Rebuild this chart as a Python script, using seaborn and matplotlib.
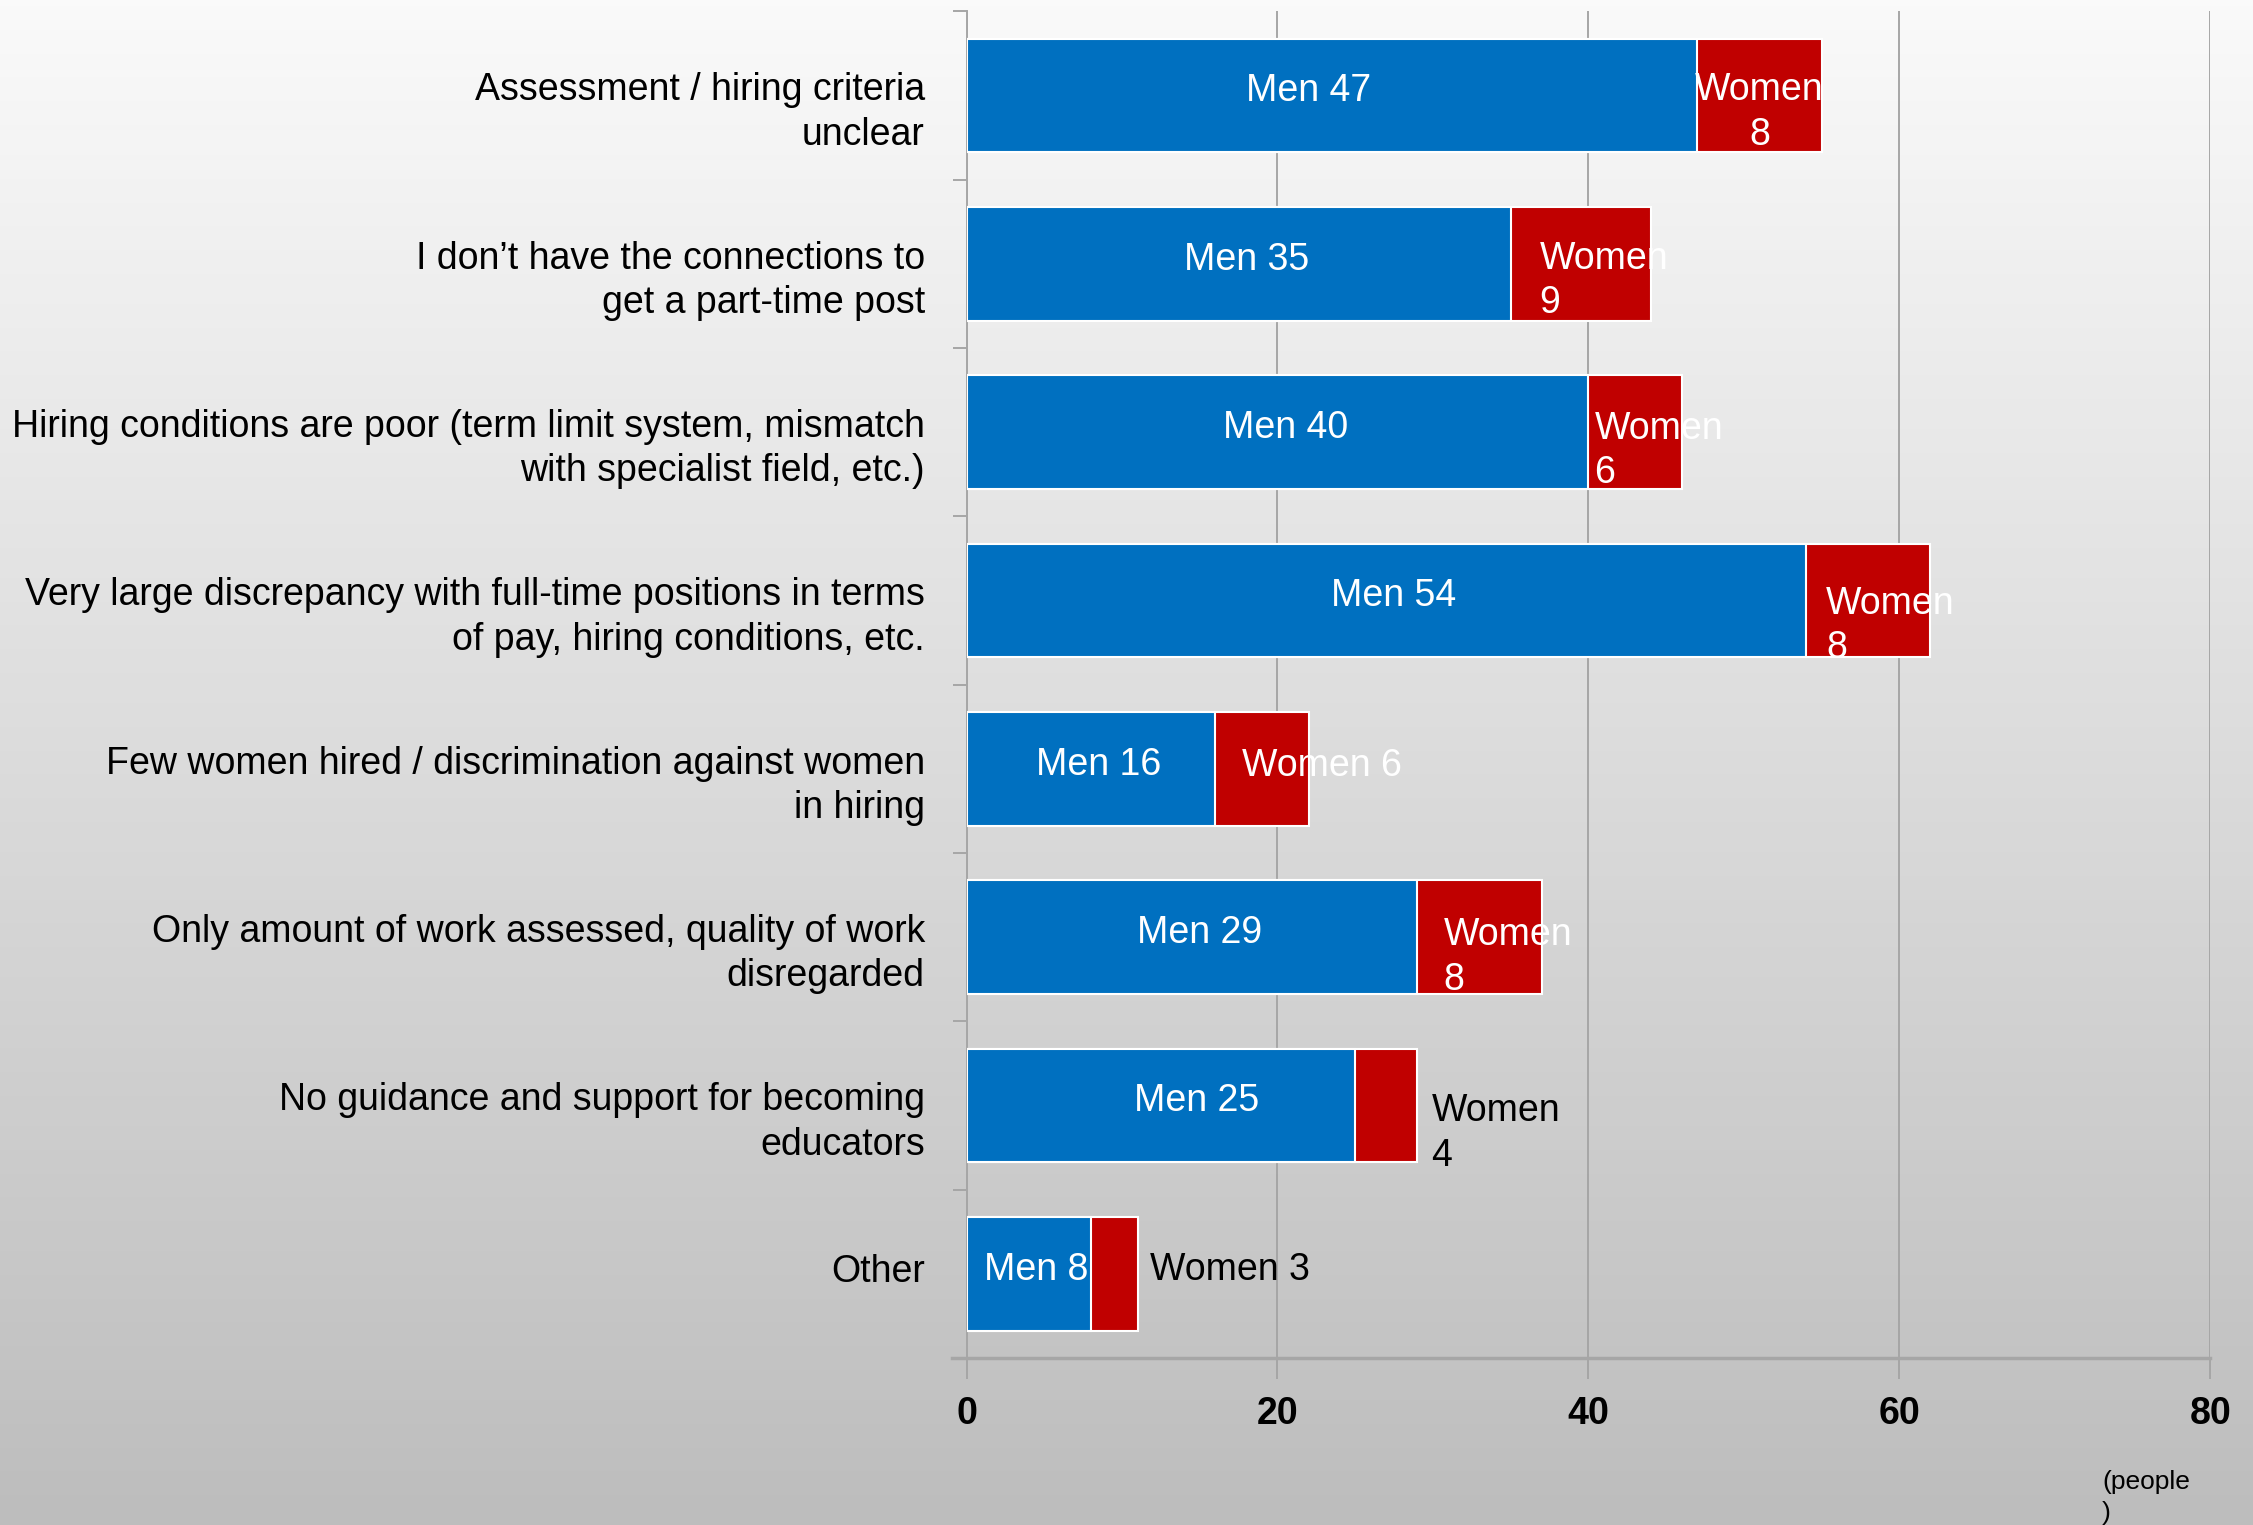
import numpy as np
import pandas as pd
import matplotlib
matplotlib.use("Agg")
import matplotlib.pyplot as plt
import matplotlib.transforms as mtransforms
from matplotlib.ticker import FixedLocator
import seaborn as sns

# data
categories = [
    "Assessment / hiring criteria\nunclear",
    "I don\u2019t have the connections to\nget a part-time post",
    "Hiring conditions are poor (term limit system, mismatch\nwith specialist field, etc.)",
    "Very large discrepancy with full-time positions in terms\nof pay, hiring conditions, etc.",
    "Few women hired / discrimination against women\nin hiring",
    "Only amount of work assessed, quality of work\ndisregarded",
    "No guidance and support for becoming\neducators",
    "Other",
]
men = [47, 35, 40, 54, 16, 29, 25, 8]
women = [8, 9, 6, 8, 6, 8, 4, 3]
x_ticks = [0, 20, 40, 60, 80]
unit_label = "(people\n)"

# how the women labels are placed (style only)
women_mode = ["center", "in", "in", "in", "in", "in", "out", "out"]
women_dx = [0, 1.85, 0.4, 1.3, 1.7, 1.7, 0.9, 0.8]
women_dy = [0.1, 0.1, 0.11, 0.15, -0.02, 0.12, 0.165, -0.02]
women_break = [True, True, True, True, False, True, True, False]
men_dx = [-1.5, 0.5, 0.5, 0.5, 0.5, 0.5, 2.3, 0.5]

BLUE = "#0070C0"
RED = "#C00000"
GRID = "#a6a6a6"

df = pd.DataFrame({"category": categories, "men": men, "women": women})
df["total"] = df["men"] + df["women"]

sns.set_theme(style="white")
plt.rcParams["font.family"] = ["Liberation Sans", "DejaVu Sans"]
plt.rcParams["text.color"] = "black"
plt.rcParams["xtick.labelcolor"] = "black"
plt.rcParams["ytick.labelcolor"] = "black"

fig = plt.figure(figsize=(22.53, 15.25), dpi=100)

# vertical grey gradient behind everything
bg = fig.add_axes([0, 0, 1, 1], zorder=-10)
grad = np.linspace(0, 1, 256).reshape(-1, 1)
bg.imshow(grad, aspect="auto", cmap=matplotlib.colors.LinearSegmentedColormap.from_list(
    "bg", ["#fafafa", "#bdbdbd"]), extent=[0, 1, 0, 1], origin="upper")
bg.axis("off")

ax = fig.add_axes([0.429, 0.1095, 0.552, 0.883])
ax.set_facecolor("none")

sns.barplot(data=df, x="total", y="category", color=RED, width=0.675,
            edgecolor="white", linewidth=1.5, saturation=1, ax=ax, zorder=3)
sns.barplot(data=df, x="men", y="category", color=BLUE, width=0.675,
            edgecolor="white", linewidth=1.5, saturation=1, ax=ax, zorder=4)

ax.set_xlim(0, 80)
ax.set_ylim(len(categories) - 0.5, -0.5)
ax.set_xlabel("")
ax.set_ylabel("")

# grid + ticks
ax.set_xticks(x_ticks)
ax.set_xticklabels([str(t) for t in x_ticks], fontsize=27, fontweight="bold",
                   color="black")
ax.xaxis.grid(True, color=GRID, linewidth=1.4, zorder=0)
ax.set_axisbelow(True)
ax.tick_params(axis="x", direction="out", length=15, width=1.4, color=GRID,
               pad=12, bottom=True)
ax.tick_params(axis="y", which="major", length=0, pad=30, labelsize=27)
ax.yaxis.set_minor_locator(FixedLocator(np.arange(-0.5, len(categories), 1.0)))
ax.tick_params(axis="y", which="minor", direction="out", length=10, width=1.4,
               color=GRID, left=True)

for lab in ax.get_yticklabels():
    lab.set_multialignment("right")
    lab.set_color("black")
    lab.set_linespacing(1.3)
    if "\n" in lab.get_text():
        lab.set_transform(lab.get_transform() +
                          mtransforms.ScaledTranslation(0, -6.3 / 72, fig.dpi_scale_trans))
    else:
        lab.set_transform(lab.get_transform() +
                          mtransforms.ScaledTranslation(0, 4 / 72, fig.dpi_scale_trans))

for side in ["top", "right"]:
    ax.spines[side].set_visible(False)
ax.spines["left"].set_color(GRID)
ax.spines["left"].set_linewidth(1.4)
ax.spines["bottom"].set_color(GRID)
ax.spines["bottom"].set_linewidth(2.5)
ax.spines["bottom"].set_bounds(-0.95, 80)
ax.spines["bottom"].set_zorder(5)

# value labels
for i, (m, w) in enumerate(zip(men, women)):
    ax.text(m / 2 + men_dx[i], i - 0.025, f"Men {m}", color="white", fontsize=27,
            ha="center", va="center", zorder=6)
    txt = f"Women\n{w}" if women_break[i] else f"Women {w}"
    dy = women_dy[i]
    if women_mode[i] == "center":
        ax.text(m + w / 2, i + dy, txt, color="white", fontsize=27,
                ha="center", va="center", zorder=6, linespacing=1.3)
    elif women_mode[i] == "in":
        ax.text(m + women_dx[i], i + dy, txt, color="white", fontsize=27,
                ha="left", va="center", zorder=6, linespacing=1.3)
    else:
        ax.text(m + w + women_dx[i], i + dy, txt, color="black", fontsize=27,
                ha="left", va="center", zorder=6, linespacing=1.3)

fig.text(0.933, 0.036, unit_label, fontsize=19, ha="left", va="top",
         linespacing=1.35)

fig.savefig("out.png", dpi=100)
